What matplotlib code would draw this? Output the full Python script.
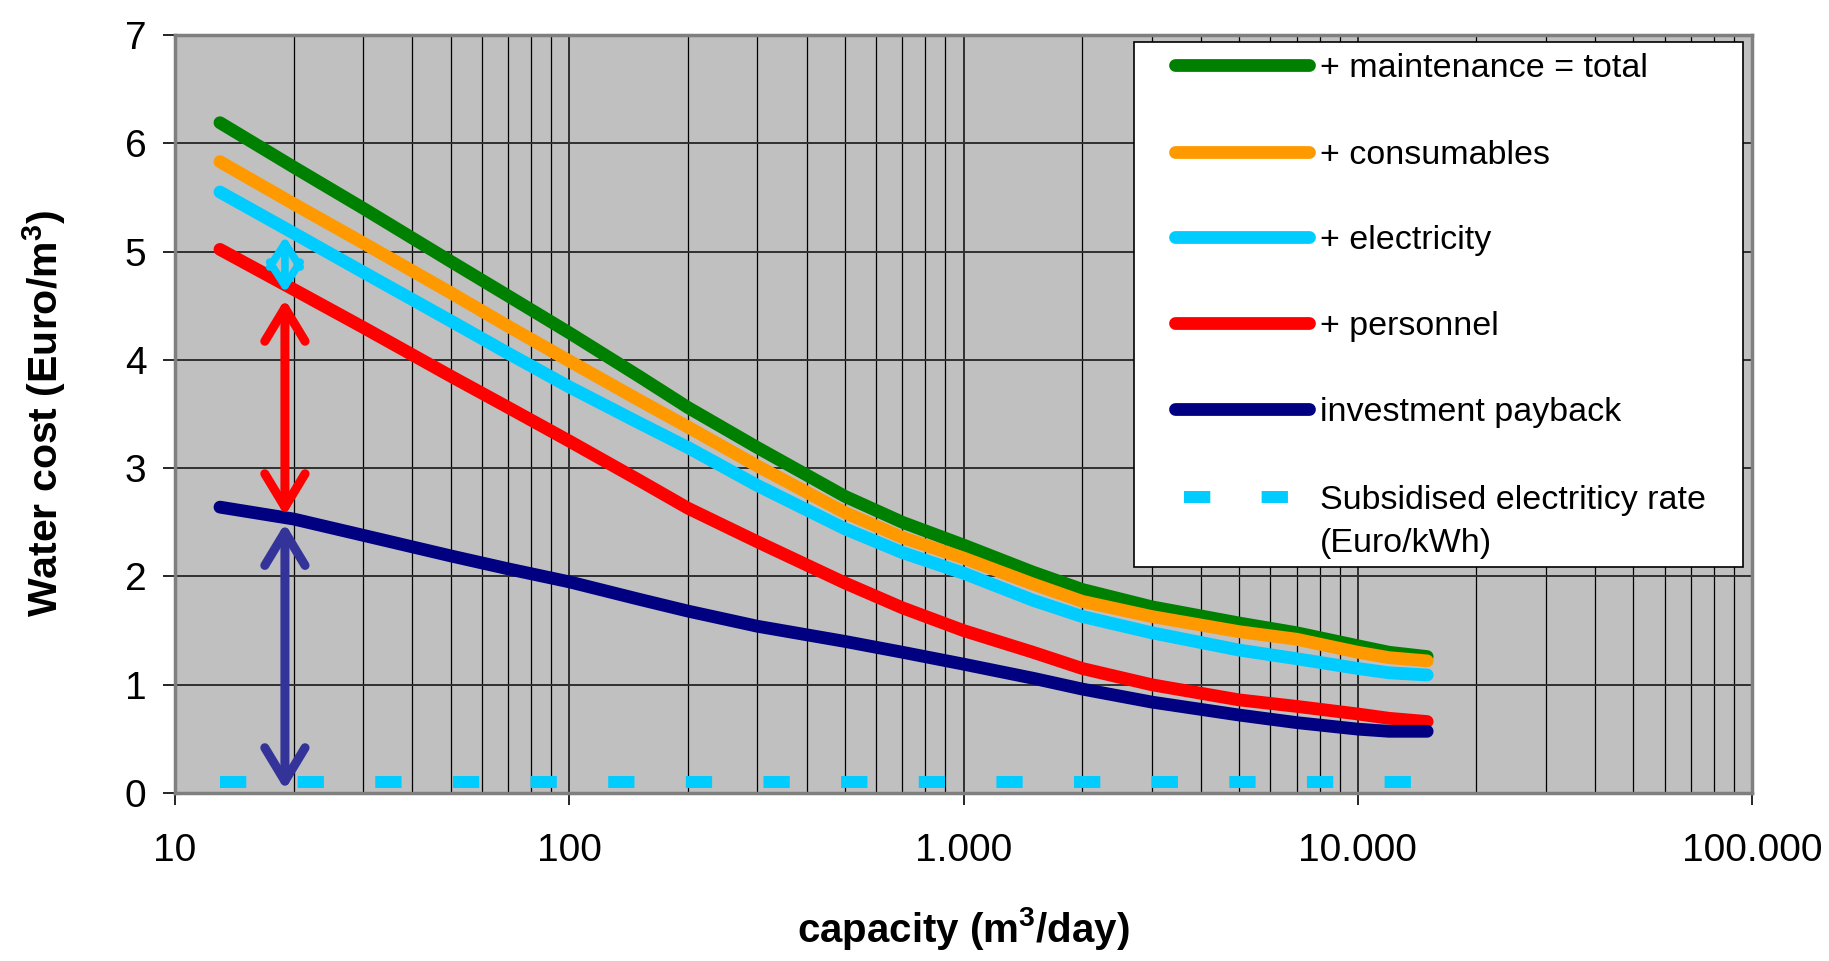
import matplotlib
matplotlib.use('Agg')
import matplotlib.pyplot as plt
from matplotlib.ticker import LogLocator, NullFormatter
from matplotlib.patches import Rectangle

plt.rcParams['font.family'] = ['Liberation Sans', 'DejaVu Sans']
plt.rcParams['mathtext.fontset'] = 'custom'
plt.rcParams['mathtext.rm'] = 'Liberation Sans'
plt.rcParams['mathtext.bf'] = 'Liberation Sans:bold'

# capacity in m3/day, cumulative water cost in Euro/m3
capacity = [13, 20, 30, 50, 70, 100, 150, 200, 300, 500, 700, 1000,
            1500, 2000, 3000, 5000, 7000, 10000, 12000, 15000]
maintenance_total = [6.19, 5.78, 5.40, 4.91, 4.59, 4.25, 3.85, 3.56, 3.19, 2.74, 2.50, 2.29,
                     2.04, 1.88, 1.72, 1.57, 1.48, 1.36, 1.30, 1.26]
consumables = [5.83, 5.44, 5.08, 4.62, 4.31, 3.99, 3.63, 3.38, 3.02, 2.59, 2.36, 2.17,
               1.93, 1.77, 1.63, 1.49, 1.42, 1.30, 1.25, 1.22]
electricity = [5.55, 5.17, 4.81, 4.36, 4.06, 3.75, 3.42, 3.19, 2.84, 2.44, 2.22, 2.03,
               1.78, 1.63, 1.48, 1.32, 1.24, 1.15, 1.11, 1.09]
personnel = [5.02, 4.65, 4.30, 3.85, 3.56, 3.25, 2.89, 2.63, 2.32, 1.94, 1.71, 1.50,
             1.30, 1.15, 1.00, 0.86, 0.80, 0.73, 0.69, 0.66]
investment_payback = [2.64, 2.53, 2.38, 2.19, 2.07, 1.95, 1.79, 1.68, 1.54, 1.40, 1.30, 1.19,
                      1.06, 0.96, 0.84, 0.72, 0.65, 0.59, 0.57, 0.57]
subsidised_rate = [0.1] * len(capacity)

series_labels = ['+ maintenance = total', '+ consumables', '+ electricity',
                 '+ personnel', 'investment payback',
                 'Subsidised electriticy rate\n(Euro/kWh)']
series_colors = ['#008000', '#FF9900', '#00CCFF', '#FF0000', '#000080', '#00CCFF']

# double arrows showing the cost components at ~19 m3/day
arrow_x = 19
arrow_low = [4.62, 2.56, 0.03]
arrow_high = [5.14, 4.56, 2.49]
arrow_colors = ['#00CCFF', '#FF0000', '#333399']

xtick_values = [10, 100, 1000, 10000, 100000]
xtick_labels = ['10', '100', '1.000', '10.000', '100.000']
ytick_values = [0, 1, 2, 3, 4, 5, 6, 7]

fig = plt.figure(figsize=(18.29, 9.61), dpi=100)
ax = fig.add_axes([0.0957, 0.1748, 0.8622, 0.7888])
ax.set_facecolor('#C0C0C0')

curves = [maintenance_total, consumables, electricity, personnel, investment_payback]
for values, color in zip(curves, series_colors[:5]):
    ax.plot(capacity, values, color=color, lw=9.2, solid_capstyle='round',
            solid_joinstyle='round', zorder=3)
ax.plot(capacity, subsidised_rate, color=series_colors[5], lw=8.6,
        linestyle=(0, (2.2, 4.3)), dash_capstyle='butt', zorder=3)

for lo, hi, color in zip(arrow_low, arrow_high, arrow_colors):
    small = (hi - lo) < 1
    if small:
        style, lw = '<->,head_length=1.7,head_width=1.1', 5.5
    else:
        style, lw = '<->,head_length=2.4,head_width=1.45', 6.5
    ax.annotate('', xy=(arrow_x, hi), xytext=(arrow_x, lo),
                arrowprops=dict(arrowstyle=style, color=color, lw=lw,
                                shrinkA=0, shrinkB=0),
                zorder=4)

ax.set_xscale('log')
ax.set_xlim(10, 100000)
ax.set_ylim(0, 7)
ax.set_xticks(xtick_values, xtick_labels)
ax.set_yticks(ytick_values)
ax.xaxis.set_minor_locator(LogLocator(base=10, subs=range(2, 10)))
ax.xaxis.set_minor_formatter(NullFormatter())
ax.tick_params(axis='both', which='major', direction='out', length=8.5, width=1.2,
               labelsize=28, color='black')
ax.tick_params(axis='x', which='major', pad=20)
ax.tick_params(axis='y', which='major', pad=12)
ax.tick_params(axis='x', which='minor', length=0)

ax.set_axisbelow(True)
ax.grid(which='major', axis='both', color='#303030', lw=1.4)
ax.grid(which='minor', axis='x', color='black', lw=0.9)
for side in ['left', 'right', 'top', 'bottom']:
    ax.spines[side].set_color('#7F7F7F')
    ax.spines[side].set_linewidth(2.5)

ax.set_xlabel(r'capacity (m$^\mathbf{3}$/day)', fontsize=29, fontweight='bold')
ax.set_ylabel(r'Water cost (Euro/m$^\mathbf{3}$)', fontsize=29.5, fontweight='bold')
ax.xaxis.set_label_coords(0.5, -0.148)
ax.yaxis.set_label_coords(-0.068, 0.5)

# legend box drawn in axes fractions
box = Rectangle((0.608, 0.298), 0.386, 0.693, transform=ax.transAxes,
                facecolor='white', edgecolor='black', lw=1.2, zorder=5)
ax.add_patch(box)
legend_rows = [0.960, 0.846, 0.733, 0.620, 0.507, 0.390]
line_step = 0.056
for i, (label, color, y) in enumerate(zip(series_labels, series_colors, legend_rows)):
    if i < 5:
        ax.plot([0.634, 0.719], [y, y], transform=ax.transAxes, color=color,
                lw=9.2, solid_capstyle='round', zorder=6)
    else:
        ax.plot([0.640, 0.727], [y, y], transform=ax.transAxes, color=color,
                lw=8.6, linestyle=(0, (2.2, 4.3)), dash_capstyle='butt', zorder=6)
    for k, part in enumerate(label.split('\n')):
        ax.text(0.726, y - k * line_step, part, transform=ax.transAxes, fontsize=24.5,
                ha='left', va='center_baseline', zorder=7)

fig.savefig('out.png', dpi=100)
